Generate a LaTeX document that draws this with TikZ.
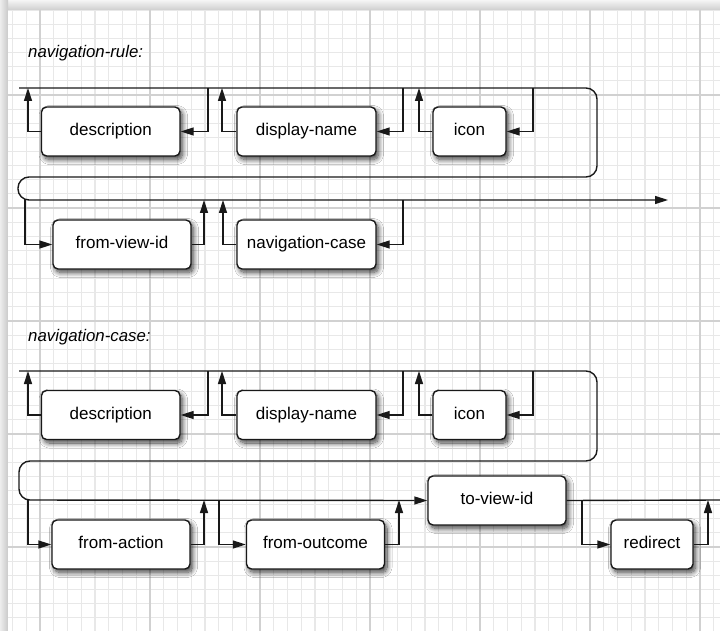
\documentclass[tikz,border=0pt]{standalone}
\usepackage{fontspec}
\setmainfont{Liberation Sans}
\usetikzlibrary{arrows.meta,shadows.blur}

\tikzset{
  x=1pt, y=-1pt,
  flow/.style={line width=1.4pt, draw=black!90, line join=miter},
  arr/.style={flow, -{Triangle[length=13pt,width=8pt]}},
  elem/.style={draw=black!90, line width=1.4pt, rounded corners=5pt, fill=white,
    inner sep=0pt, minimum height=49pt, text height=12.3pt, text depth=3.6pt,
    font=\fontsize{17}{20}\selectfont,
    blur shadow={shadow xshift=2.5pt, shadow yshift=-3.5pt, shadow blur radius=5pt,
      shadow blur steps=12, shadow opacity=75}},
  heading/.style={anchor=base west, inner sep=0pt, font=\fontsize{16.8}{20}\selectfont\itshape},
  minorline/.style={draw=gray!18, line width=1.2pt},
  majorline/.style={draw=gray!36, line width=1.3pt},
}

\begin{document}
\begin{tikzpicture}
\useasboundingbox (0,0) rectangle (720,631);

% paper sheet with its shaded edges
\fill[gray!30] (0,0) rectangle (720,631);
\shade[top color=gray!8, bottom color=gray!38] (0,0) rectangle (720,10);
\shade[left color=gray!14, right color=gray!42] (0,0) rectangle (8,631);
\fill[white] (8,10) rectangle (720,631);

% graph paper grid
\begin{scope}
  \clip (8,10) rectangle (720,631);
  \foreach \i in {-2,...,49} \draw[minorline] ({40+13.75*\i},10) -- ({40+13.75*\i},631);
  \foreach \k in {-6,...,38} \draw[minorline] (8,{95+14.125*\k}) -- (720,{95+14.125*\k});
  \foreach \i in {0,...,6} \draw[majorline] ({40+110*\i},10) -- ({40+110*\i},631);
  \foreach \k in {0,...,4} \draw[majorline] (8,{95+113*\k}) -- (720,{95+113*\k});
\end{scope}

% ---------------- navigation-rule ----------------
\node[heading] (hrule) at (28,58) {navigation-rule:};

\node[elem, minimum width=138.5pt] (ra) at (110.75,131.5) {description};
\node[elem, minimum width=139pt]   (rb) at (306.5,131.5) {display-name};
\node[elem, minimum width=73pt]    (rc) at (469.5,131.5) {icon};
\node[elem, minimum width=138pt]   (rd) at (122,244.5) {from-view-id};
\node[elem, minimum width=139pt]   (re) at (306.5,244.5) {navigation-case};

\coordinate (rstart) at (19,88);
\coordinate (rend) at (668,200);
\coordinate (ja) at (28,88);  \coordinate (ka) at (208,88);
\coordinate (jb) at (222,88); \coordinate (kb) at (403,88);
\coordinate (jc) at (419,88); \coordinate (kc) at (533,88);
\coordinate (ed) at (25,199); \coordinate (xd) at (204,200);
\coordinate (je) at (223,200); \coordinate (ke) at (403,200);

\draw[arr, rounded corners=11pt] (rstart) -- (597,88) -- (597,177) -- (18,177) -- (18,200) -- (rend);

\draw[arr] (ra.west) -| (ja);
\draw[arr] (ka) |- (ra.east);
\draw[arr] (rb.west) -| (jb);
\draw[arr] (kb) |- (rb.east);
\draw[arr] (rc.west) -| (jc);
\draw[arr] (kc) |- (rc.east);
\draw[arr] (ed) |- (rd.west);
\draw[arr] (rd.east) -| (xd);
\draw[arr] (re.west) -| (je);
\draw[arr] (ke) |- (re.east);

% ---------------- navigation-case ----------------
\node[heading] (hcase) at (28,341) {navigation-case:};

\node[elem, minimum width=138.5pt] (ca) at (110.75,415) {description};
\node[elem, minimum width=139pt]   (cb) at (306.5,415) {display-name};
\node[elem, minimum width=73pt]    (cc) at (469.5,415) {icon};
\node[elem, minimum width=138pt]   (ct) at (497,500.5) {to-view-id};
\node[elem, minimum width=138pt]   (cf) at (121,544.5) {from-action};
\node[elem, minimum width=138pt]   (co) at (315.5,544.5) {from-outcome};
\node[elem, minimum width=82pt]    (cr) at (652,544.5) {redirect};

\coordinate (cstart) at (19,371);
\coordinate (cend) at (720,500);
\coordinate (la) at (28,371);  \coordinate (ma) at (208,371);
\coordinate (lb) at (222,371); \coordinate (mb) at (403,371);
\coordinate (lc) at (419,371); \coordinate (mc) at (533,371);
\coordinate (ef) at (28,500);  \coordinate (xf) at (204,500);
\coordinate (eo) at (219,500); \coordinate (xo) at (399,500);
\coordinate (er) at (582,500); \coordinate (xr) at (708,500);

\draw[arr, rounded corners=11pt] (cstart) -- (597,371) -- (597,461) -- (19,461) -- (19,500) -- (ct.west);
\draw[flow] (ct.east) -- (cend);

\draw[arr] (ca.west) -| (la);
\draw[arr] (ma) |- (ca.east);
\draw[arr] (cb.west) -| (lb);
\draw[arr] (mb) |- (cb.east);
\draw[arr] (cc.west) -| (lc);
\draw[arr] (mc) |- (cc.east);
\draw[arr] (ef) |- (cf.west);
\draw[arr] (cf.east) -| (xf);
\draw[arr] (eo) |- (co.west);
\draw[arr] (co.east) -| (xo);
\draw[arr] (er) |- (cr.west);
\draw[arr] (cr.east) -| (xr);
\end{tikzpicture}
\end{document}
